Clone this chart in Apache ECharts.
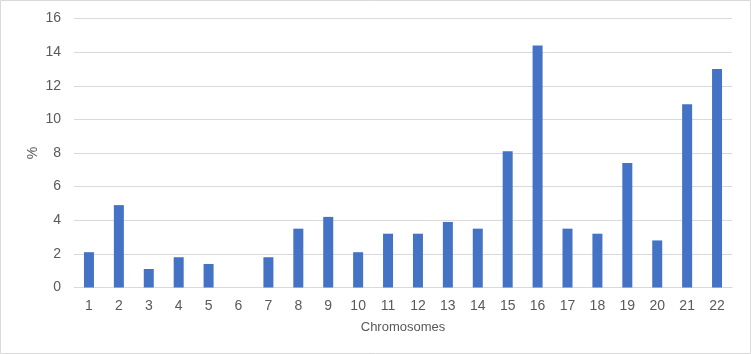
<!DOCTYPE html>
<html>
<head>
<meta charset="utf-8">
<script src="https://cdn.jsdelivr.net/npm/echarts@6/dist/echarts.min.js"></script>
<style>
  html, body { margin: 0; padding: 0; background: #fff; }
  #chart { width: 751px; height: 354px; }
</style>
</head>
<body>
<div id="chart"></div>
<script>
const chromosomes = ['1', '2', '3', '4', '5', '6', '7', '8', '9', '10', '11',
  '12', '13', '14', '15', '16', '17', '18', '19', '20', '21', '22'];
const percentValues = [2.1, 4.9, 1.1, 1.8, 1.4, 0, 1.8, 3.5, 4.2, 2.1, 3.2,
  3.2, 3.9, 3.5, 8.1, 14.4, 3.5, 3.2, 7.4, 2.8, 10.9, 13.0];

const chart = echarts.init(document.getElementById('chart'), null, { renderer: 'canvas' });

const labelColor = '#595959';
const gridColor = '#d9d9d9';

chart.setOption({
  animation: false,
  textStyle: { fontFamily: '"Liberation Sans", Arial, sans-serif' },
  graphic: [{
    type: 'rect',
    shape: { x: 0.5, y: 0.5, width: 750, height: 353 },
    style: { fill: 'none', stroke: gridColor, lineWidth: 1 },
    silent: true
  }],
  grid: { left: 74, right: 19, top: 18.5, bottom: 66.5 },
  xAxis: {
    type: 'category',
    data: chromosomes,
    name: 'Chromosomes',
    nameLocation: 'middle',
    nameGap: 33,
    nameMoveOverlap: false,
    nameTextStyle: { color: labelColor, fontSize: 13 },
    axisLine: { lineStyle: { color: gridColor } },
    axisTick: { show: false },
    axisLabel: { color: labelColor, fontSize: 14, margin: 12 }
  },
  yAxis: {
    type: 'value',
    min: 0,
    max: 16,
    interval: 2,
    name: '%',
    nameLocation: 'middle',
    nameGap: 34,
    nameRotate: 90,
    nameMoveOverlap: false,
    nameTextStyle: { color: labelColor, fontSize: 14 },
    axisLine: { show: false },
    axisTick: { show: false },
    splitLine: { lineStyle: { color: gridColor } },
    axisLabel: { color: labelColor, fontSize: 14, margin: 13 }
  },
  series: [{
    type: 'bar',
    data: percentValues,
    barWidth: 10,
    itemStyle: { color: '#4472c4' }
  }]
});
</script>
</body>
</html>
